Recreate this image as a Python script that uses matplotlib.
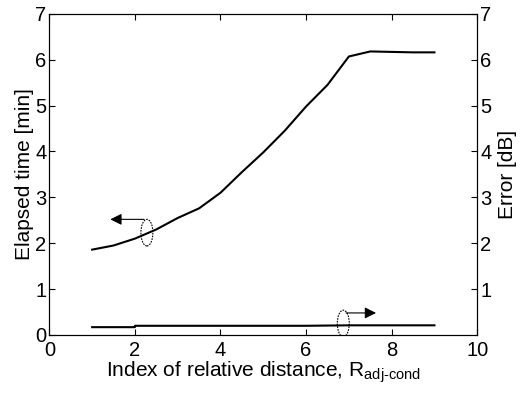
import matplotlib.pyplot as plt
from matplotlib.patches import Ellipse

plt.rcParams['font.family'] = ['Liberation Sans', 'DejaVu Sans']
plt.rcParams['mathtext.fontset'] = 'custom'
plt.rcParams['mathtext.rm'] = 'Liberation Sans'

# data
index = [1, 1.5, 2, 2.5, 3, 3.5, 4, 4.5, 5, 5.5, 6, 6.5, 7, 7.5, 8, 8.5, 9]
elapsed = [1.86, 1.95, 2.1, 2.3, 2.55, 2.76, 3.1, 3.55, 3.98, 4.45,
           4.98, 5.45, 6.07, 6.18, 6.17, 6.16, 6.16]
err_index = [1, 2, 2, 3, 4, 5, 6, 7, 8, 9]
error = [0.17, 0.17, 0.2, 0.2, 0.2, 0.2, 0.2, 0.21, 0.21, 0.21]

fig = plt.figure(figsize=(5.25, 3.95), dpi=100)
ax = fig.add_axes([0.094, 0.152, 0.815, 0.813])
ax2 = ax.twinx()

ax.plot(index, elapsed, color='black', lw=1.5)
ax2.plot(err_index, error, color='black', lw=1.5)

ax.set_xlim(0, 10)
ax.set_ylim(0, 7)
ax2.set_ylim(0, 7)
ax.set_xticks(range(0, 11, 2))
ax.set_yticks(range(0, 8))
ax2.set_yticks(range(1, 8))

for a in (ax, ax2):
    a.tick_params(direction='in', labelsize=14.5, length=4, width=0.8, pad=2)
ax.tick_params(axis='x', top=True, pad=4)

ax.set_xlabel('Index of relative distance, R$_{\\mathregular{adj\\text{-}cond}}$',
              fontsize=15, labelpad=0)
ax.set_ylabel('Elapsed time [min]', fontsize=15, labelpad=1)
ax2.set_ylabel('Error [dB]', fontsize=15, labelpad=5)

# ellipse markers with arrows pointing at the axis each curve belongs to
ax.add_patch(Ellipse((2.28, 2.23), 0.28, 0.58, fill=False, lw=0.8,
                     ls=(0, (1.5, 1)), color='black'))
ax.annotate('', xy=(1.36, 2.52), xytext=(2.28, 2.52),
            arrowprops=dict(arrowstyle='-|>', color='black', lw=0.8,
                            mutation_scale=17))
ax.add_patch(Ellipse((6.87, 0.25), 0.28, 0.58, fill=False, lw=0.8,
                     ls=(0, (1.5, 1)), color='black'))
ax.annotate('', xy=(7.7, 0.48), xytext=(6.87, 0.48),
            arrowprops=dict(arrowstyle='-|>', color='black', lw=0.8,
                            mutation_scale=17))

fig.savefig('out.png', dpi=100)
